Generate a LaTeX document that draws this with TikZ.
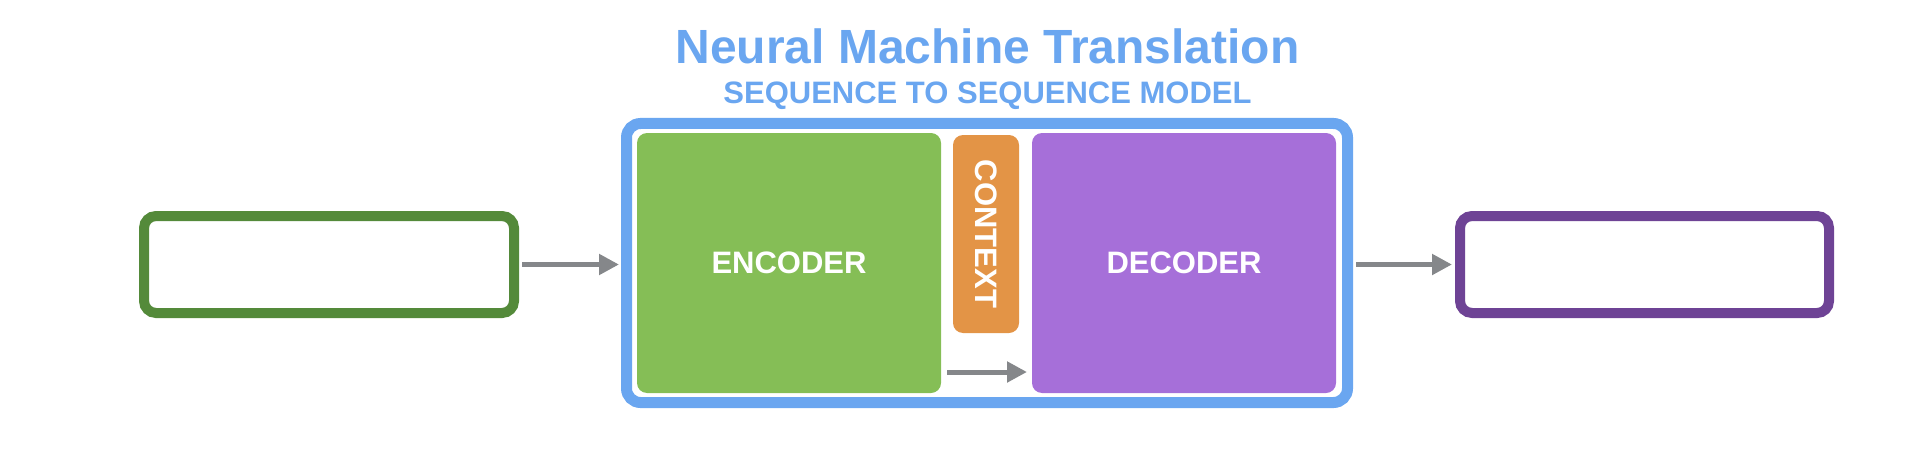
\documentclass[tikz,border=0pt]{standalone}
\usepackage{fontspec}
\setmainfont{Liberation Sans}
\definecolor{NmtBlue}{HTML}{6AA6F0}
\definecolor{EncGreen}{HTML}{85BE56}
\definecolor{InGreen}{HTML}{548A3A}
\definecolor{CtxOrange}{HTML}{E39446}
\definecolor{DecPurple}{HTML}{A66FD9}
\definecolor{OutPurple}{HTML}{6E4395}
\definecolor{ArrGray}{HTML}{85878A}
\usepackage{tikz}
\usetikzlibrary{arrows.meta, positioning}

\begin{document}
\begin{tikzpicture}[x=0.5pt, y=-0.5pt,
    label/.style={font=\fontsize{15.5}{18}\bfseries\selectfont, text=white},
    block/.style={rounded corners=5pt, inner sep=0pt, outer sep=0pt, label},
    seqbox/.style={draw, line width=5pt, rounded corners=6pt, fill=white,
      minimum height=48.5pt, inner sep=0pt},
    arr/.style={ArrGray, line width=2.5pt, -{Triangle[length=10pt, width=10pt]}}]
  \useasboundingbox (0,0) rectangle (1926,460);
  % Title
  \node[anchor=base, text=NmtBlue, font=\fontsize{24}{28}\bfseries\selectfont]
    (title) at (987.5, 64) {Neural Machine Translation};
  \node[anchor=base, text=NmtBlue, font=\fontsize{15.5}{18}\bfseries\selectfont]
    (subtitle) at (987.5, 104) {SEQUENCE TO SEQUENCE MODEL};
  % Seq2seq model
  \node[draw=NmtBlue, line width=5.5pt, rounded corners=7pt, inner sep=0pt,
    minimum width=360.5pt, minimum height=139.5pt] (model) at (987, 263) {};
  \node[block, fill=EncGreen, minimum width=152pt, minimum height=130pt]
    (encoder) at (789, 263) {ENCODER};
  \node[block, fill=DecPurple, minimum width=152pt, minimum height=130pt]
    (decoder) at (1184, 263) {DECODER};
  \node[block, fill=CtxOrange, minimum width=33pt, minimum height=99pt]
    (context) at (986, 234) {};
  \node[label, rotate=-90] (ctxtext) at (context.center) {CONTEXT};
  % Input and output sequences
  \node[seqbox, draw=InGreen, minimum width=185pt] (input) at (329, 264.5) {};
  \node[seqbox, draw=OutPurple, minimum width=184.5pt] (output) at (1644.5, 264.5) {};
  % Connectors
  \draw[arr, shorten <=1.5pt, shorten >=1pt] (input.east) -- (input.east -| model.west);
  \draw[arr, shorten <=1.5pt, shorten >=1.5pt] (model.east |- output.west) -- (output.west);
  \draw[arr, shorten <=3pt, shorten >=2.5pt]
    ([yshift=10.5pt]encoder.south east) -- ([yshift=10.5pt]decoder.south west);
\end{tikzpicture}
\end{document}
